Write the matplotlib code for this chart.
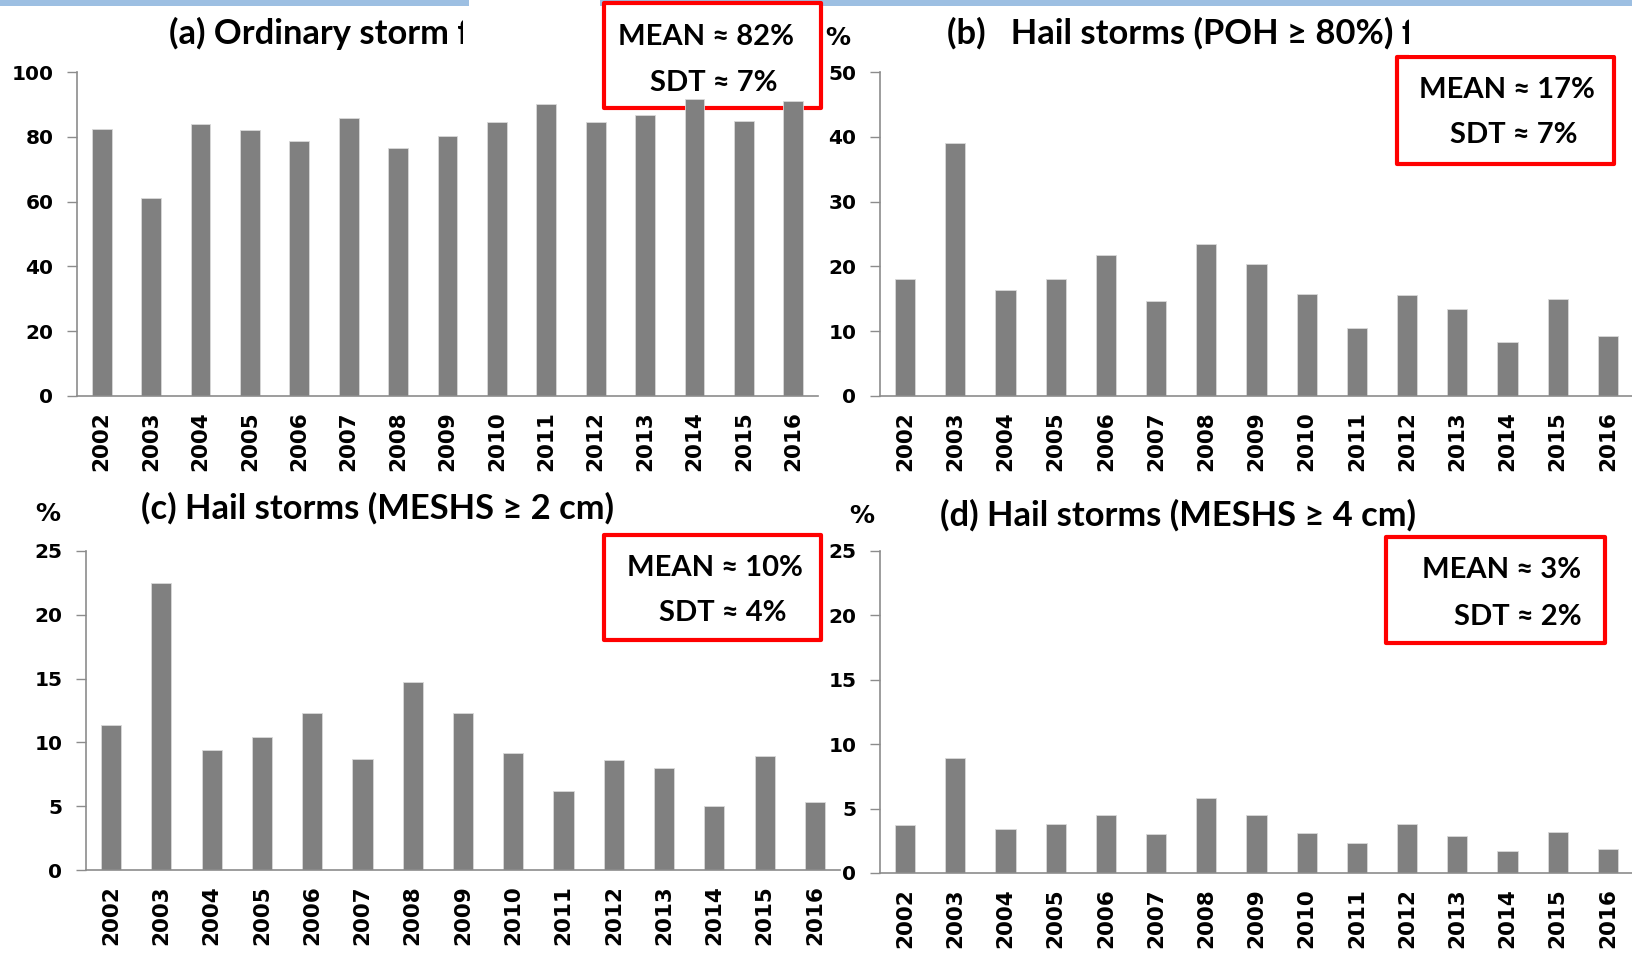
import matplotlib
matplotlib.use('Agg')
import matplotlib.pyplot as plt
from matplotlib.patches import Rectangle

W, H = 1633, 959

years = [str(y) for y in range(2002, 2017)]
ordinary = [82.4, 61.1, 83.8, 82.0, 78.6, 85.9, 76.5, 80.4, 84.6, 90.0, 84.6, 86.8, 91.6, 85.0, 90.9]
poh80 = [18.0, 39.1, 16.3, 18.0, 21.7, 14.6, 23.5, 20.3, 15.8, 10.5, 15.6, 13.5, 8.4, 15.0, 9.2]
meshs2 = [11.4, 22.5, 9.4, 10.4, 12.3, 8.7, 14.7, 12.3, 9.2, 6.2, 8.6, 8.0, 5.0, 8.9, 5.3]
meshs4 = [3.7, 8.9, 3.4, 3.8, 4.5, 3.0, 5.8, 4.5, 3.1, 2.3, 3.8, 2.9, 1.7, 3.2, 1.9]

titles = ['(a) Ordinary storm f', '(b)   Hail storms (POH \u2265 80%) f',
          '(c) Hail storms (MESHS \u2265 2 cm)', '(d) Hail storms (MESHS \u2265 4 cm)']
mean_txt = ['MEAN \u2248 82%', 'MEAN \u2248 17%', 'MEAN \u2248 10%', 'MEAN \u2248 3%']
sdt_txt = ['SDT \u2248 7%', 'SDT \u2248 7%', 'SDT \u2248 4%', 'SDT \u2248 2%']
ymax = [100, 50, 25, 25]
ystep = [20, 10, 5, 5]

TXT_FONT = ['Lato', 'DejaVu Sans']
TICK_FONT = 'DejaVu Sans'


def fx(x):
    return x / W


def fy(y):
    return 1 - y / H


def rect_px(x0, y0, x1, y1, **kw):
    # rectangle given in pixels (top-left origin)
    return Rectangle((fx(x0), fy(y1)), fx(x1) - fx(x0), fy(y0) - fy(y1),
                     transform=fig.transFigure, **kw)


fig = plt.figure(figsize=(W / 100, H / 100), dpi=100)

# strip along the top edge
fig.patches.append(rect_px(0, 0, W, 6, facecolor='#9dbfe2', edgecolor='none', zorder=-3))

# white cover where the titles are cut off
for x0, y0, x1, y1 in [(463, 8, 600, 60), (469, 0, 600, 8), (1409, 8, 1633, 55)]:
    fig.patches.append(rect_px(x0, y0, x1, y1, facecolor='white', edgecolor='none', zorder=5))

# MEAN / SDT boxes sit behind the bars
boxes = [(604, 3, 821, 108), (1397, 57, 1614, 164),
         (604, 535, 821, 640), (1386, 537, 1605, 643)]
for x0, y0, x1, y1 in boxes:
    fig.patches.append(rect_px(x0, y0, x1, y1, facecolor='white', edgecolor='#ff0000',
                               linewidth=3, joinstyle='round', zorder=-1))

# panels: left, top, right, bottom in pixels
panel_px = [(77, 72, 818, 396), (880, 72, 1633, 396),
            (86, 551, 840, 870), (880, 551, 1633, 873)]
series = [ordinary, poh80, meshs2, meshs4]

for i, (x0, y0, x1, y1) in enumerate(panel_px):
    ax = fig.add_axes([fx(x0), fy(y1), fx(x1) - fx(x0), fy(y0) - fy(y1)])
    ax.patch.set_alpha(0)
    ax.bar(range(len(years)), series[i], width=0.4, color='#808080',
           edgecolor='#d9d9d9', linewidth=0.6)
    ax.set_xlim(-0.5, len(years) - 0.5)
    ax.set_ylim(0, ymax[i])
    ax.set_yticks(range(0, ymax[i] + 1, ystep[i]))
    ax.set_xticks(range(len(years)))
    ax.set_xticklabels(years, rotation=90, fontsize=15.5, fontweight='bold',
                       family=TICK_FONT)
    for lab in ax.get_yticklabels():
        lab.set_fontsize(14.5)
        lab.set_fontweight('bold')
        lab.set_family(TICK_FONT)
    ax.tick_params(axis='x', length=0, pad=11)
    ax.tick_params(axis='y', length=7, width=1, color='#8c8c8c', pad=10)
    for s in ['top', 'right']:
        ax.spines[s].set_visible(False)
    for s in ['left', 'bottom']:
        ax.spines[s].set_color('#8c8c8c')
        ax.spines[s].set_linewidth(1.2)

# titles
title_pos = [(169, 33), (947, 33), (141, 508), (940, 515)]
for t, (x, y) in zip(titles, title_pos):
    fig.text(fx(x), fy(y), t, ha='left', va='center', fontsize=24.8,
             fontweight='bold', family=TXT_FONT, zorder=3)

# % unit labels
for x, y in [(838, 38), (48, 514), (862, 516)]:
    fig.text(fx(x), fy(y), '%', ha='center', va='center', fontsize=18,
             fontweight='bold', family=TICK_FONT, zorder=3)

# box texts
mean_pos = [(794, 37), (1595, 90), (803, 568), (1581, 570)]
sdt_pos = [(778, 83), (1578, 135), (787, 613), (1582, 617)]
for i in range(len(boxes)):
    fig.text(fx(mean_pos[i][0]), fy(mean_pos[i][1]), mean_txt[i], ha='right',
             va='center', fontsize=21, fontweight='bold', family=TXT_FONT, zorder=7)
    fig.text(fx(sdt_pos[i][0]), fy(sdt_pos[i][1]), sdt_txt[i], ha='right',
             va='center', fontsize=21, fontweight='bold', family=TXT_FONT, zorder=7)

fig.savefig('out.png', dpi=100, facecolor='white')
